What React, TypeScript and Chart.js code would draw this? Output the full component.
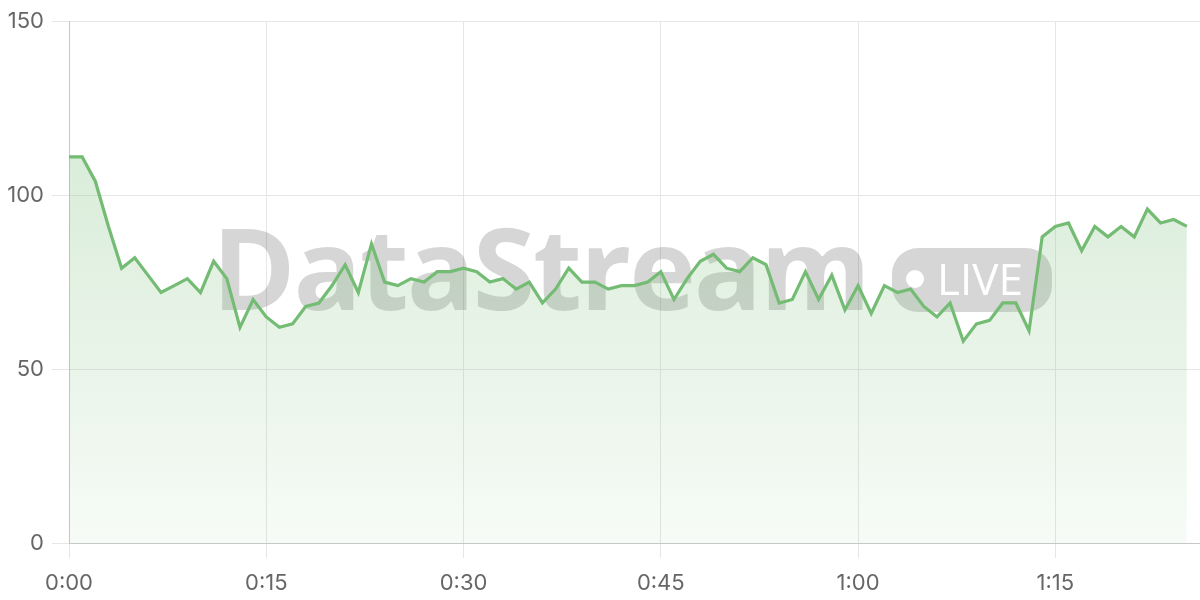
import React, { useEffect, useRef } from "react";
import { Chart, registerables } from "chart.js";

Chart.register(...registerables);

// Sample index = minutes since start (one sample per minute)
const VALUES: number[] = [
  111, 111, 104, 91, 79, 82, 77, 72, 74, 76,
  72, 81, 76, 62, 70, 65, 62, 63, 68, 69,
  74, 80, 72, 86, 75, 74, 76, 75, 78, 78,
  79, 78, 75, 76, 73, 75, 69, 73, 79, 75,
  75, 73, 74, 74, 75, 78, 70, 76, 81, 83,
  79, 78, 82, 80, 69, 70, 78, 70, 77, 67,
  74, 66, 74, 72, 73, 68, 65, 69, 58, 63,
  64, 69, 69, 61, 88, 91, 92, 84, 91, 88,
  91, 88, 96, 92, 93, 91,
];
const MINUTES_PER_SAMPLE = 1;
const X_MAX_MINUTES = 86;
const X_STEP_MINUTES = 15;
const Y_TICKS: number[] = [0, 50, 100, 150];
const WATERMARK_TEXT = "DataStream";
const WATERMARK_BADGE = "LIVE";

const LINE_COLOR = "rgb(116,187,116)";

const fmtTime = (m: number) =>
  `${Math.floor(m / 60)}:${String(Math.round(m % 60)).padStart(2, "0")}`;

const watermarkPlugin = {
  id: "watermark",
  beforeDatasetsDraw(chart: any) {
    const { ctx, chartArea } = chart;
    ctx.save();
    const left = chartArea.left + 143;
    const targetW = 659;
    ctx.font = "bold 113px 'Open Sans'";
    const w = ctx.measureText(WATERMARK_TEXT).width;
    const ls = (targetW - w) / (WATERMARK_TEXT.length - 1);
    (ctx as any).letterSpacing = `${ls.toFixed(2)}px`;
    ctx.fillStyle = "rgba(0,0,0,0.16)";
    ctx.textBaseline = "alphabetic";
    ctx.textAlign = "left";
    ctx.fillText(WATERMARK_TEXT, left, 310);
    (ctx as any).letterSpacing = "0px";
    const px = chartArea.left + 823;
    ctx.beginPath();
    ctx.roundRect(px, 248, 160, 64, 26);
    ctx.fill();
    ctx.fillStyle = "#ffffff";
    ctx.beginPath();
    ctx.arc(px + 23, 279, 9, 0, Math.PI * 2);
    ctx.fill();
    ctx.font = "44px 'Open Sans'";
    ctx.fillText(WATERMARK_BADGE, px + 45, 295);
    ctx.restore();
  },
};

export default function App() {
  const ref = useRef<HTMLCanvasElement | null>(null);
  useEffect(() => {
    if (!ref.current) return;
    const points = VALUES.map((v, i) => ({ x: i * MINUTES_PER_SAMPLE, y: v }));
    const chart = new Chart(ref.current, {
      type: "line",
      data: {
        datasets: [
          {
            data: points,
            borderColor: LINE_COLOR,
            borderWidth: 3.2,
            pointRadius: 0,
            tension: 0,
            fill: "origin",
            backgroundColor: (c: any) => {
              const area = c.chart.chartArea;
              if (!area) return "rgba(116,187,116,0.2)";
              const g = c.chart.ctx.createLinearGradient(0, area.top, 0, area.bottom);
              g.addColorStop(0, "rgba(116,187,116,0.34)");
              g.addColorStop(1, "rgba(116,187,116,0.06)");
              return g;
            },
          },
        ],
      },
      options: {
        animation: false,
        responsive: true,
        maintainAspectRatio: false,
        layout: { padding: { top: 4, left: 0, right: 0, bottom: 0 } },
        plugins: { legend: { display: false }, tooltip: { enabled: false } },
        scales: {
          x: {
            type: "linear",
            min: 0,
            max: X_MAX_MINUTES,
            afterFit: (s: any) => {
              s.height = 57;
            },
            grid: { color: "#e6e6e6", tickLength: 15 },
            border: { color: "#c8c8c8" },
            ticks: {
              stepSize: X_STEP_MINUTES,
              includeBounds: false,
              color: "#666666",
              font: { size: 22, family: "Inter" },
              padding: 12,
              maxRotation: 0,
              callback: (v: any) => fmtTime(Number(v)),
            },
          },
          y: {
            min: Y_TICKS[0],
            max: Y_TICKS[Y_TICKS.length - 1],
            afterBuildTicks: (s: any) => {
              s.ticks = Y_TICKS.map((v) => ({ value: v }));
            },
            afterFit: (s: any) => {
              s.width = 69;
            },
            grid: { color: "#e6e6e6", tickLength: 17 },
            border: { color: "#c8c8c8" },
            ticks: {
              color: "#666666",
              font: { size: 22, family: "Inter" },
              padding: 8,
            },
          },
        },
      },
      plugins: [watermarkPlugin],
    });
    return () => chart.destroy();
  }, []);
  return (
    <div style={{ position: "fixed", left: 0, top: 0, width: 1200, height: 600, background: "#fff" }}>
      <canvas ref={ref} />
    </div>
  );
}
